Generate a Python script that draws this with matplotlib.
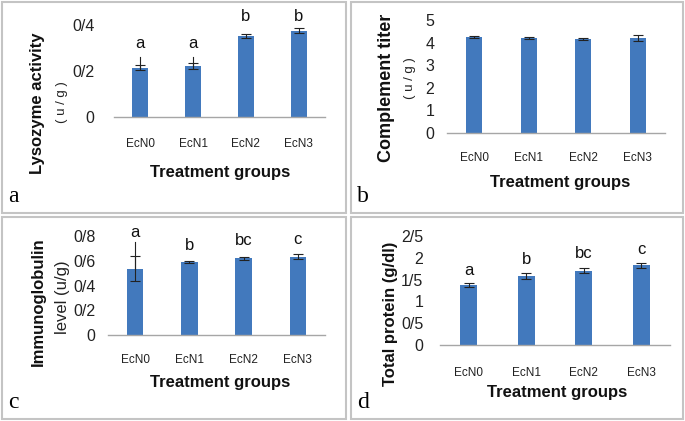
import matplotlib
matplotlib.use("Agg")
import matplotlib.pyplot as plt
from matplotlib.patches import Rectangle

W, H = 685, 421
plt.rcParams['font.family'] = ['Liberation Sans', 'DejaVu Sans']

groups = ['EcN0', 'EcN1', 'EcN2', 'EcN3']

# panel a - lysozyme
lyso = [0.215, 0.222, 0.352, 0.375]
lyso_err = [0.012, 0.012, 0.01, 0.01]
lyso_top = [0.26, 0.26, None, None]
lyso_letters = ['a', 'a', 'b', 'b']
lyso_letter_y = [0.32, 0.32, 0.435, 0.435]
lyso_ticks = [0, 0.2, 0.4]
lyso_ticklabels = ['0', '0/2', '0/4']

# panel b - complement
comp = [4.25, 4.2, 4.16, 4.2]
comp_err = [0.06, 0.06, 0.06, 0.15]
comp_ticks = [0, 1, 2, 3, 4, 5]
comp_ticklabels = ['0', '1', '2', '3', '4', '5']

# panel c - immunoglobulin
igm = [0.537, 0.59, 0.622, 0.632]
igm_err = [0.10, 0.012, 0.012, 0.02]
igm_top = [0.75, None, None, None]
igm_letters = ['a', 'b', 'bc', 'c']
igm_letter_y = [0.832, 0.727, 0.76, 0.768]
igm_ticks = [0, 0.2, 0.4, 0.6, 0.8]
igm_ticklabels = ['0', '0/2', '0/4', '0/6', '0/8']

# panel d - total protein
prot = [1.38, 1.58, 1.70, 1.83]
prot_err = [0.05, 0.07, 0.06, 0.06]
prot_letters = ['a', 'b', 'bc', 'c']
prot_letter_y = [1.72, 1.95, 2.11, 2.18]
prot_ticks = [0, 0.5, 1, 1.5, 2, 2.5]
prot_ticklabels = ['0', '0/5', '1', '1/5', '2', '2/5']

BLUE = '#4279bd'

fig = plt.figure(figsize=(W / 100, H / 100), dpi=100)


def px_axes(x0, x1, ytop, ybot):
    return fig.add_axes([x0 / W, 1 - ybot / H, (x1 - x0) / W, (ybot - ytop) / H])


def ftext(x, y, s, **kw):
    fig.text(x / W, 1 - y / H, s, ha='center', va='center', **kw)


# panel borders
for (x0, y0, x1, y1) in [(2, 2, 346, 213), (351, 2, 683, 213),
                         (2, 217, 346, 419), (351, 217, 683, 419)]:
    fig.patches.append(Rectangle((x0 / W, 1 - y1 / H), (x1 - x0) / W, (y1 - y0) / H,
                                 transform=fig.transFigure, fill=False,
                                 edgecolor='#c4c4c4', linewidth=1.5))


def panel(ax, vals, errs, ticks, ticklabels, ypad, xpad, tops=None,
          letters=None, letter_y=None):
    x = list(range(len(groups)))
    ax.bar(x, vals, width=0.3, color=BLUE, zorder=2)
    ax.errorbar(x, vals, yerr=errs, fmt='none', ecolor='#222222', elinewidth=0.8,
                capsize=3.5, capthick=0.8, zorder=3)
    if tops is not None:
        for xi, v, t in zip(x, vals, tops):
            if t is not None:
                ax.plot([xi, xi], [v, t], color='#222222', lw=0.8, zorder=3)
    if letters is not None:
        for xi, s, ly in zip(x, letters, letter_y):
            ax.text(xi, ly, s, ha='center', va='center', fontsize=12,
                    color='#111111', clip_on=False)
    ax.set_xlim(-0.5, 3.5)
    ax.set_ylim(ticks[0], ticks[-1])
    ax.set_yticks(ticks)
    ax.set_yticklabels(ticklabels)
    ax.set_xticks(x)
    ax.set_xticklabels(groups)
    for sp in ['top', 'right', 'left']:
        ax.spines[sp].set_visible(False)
    ax.spines['bottom'].set_color('#a6a6a6')
    ax.spines['bottom'].set_linewidth(1.0)
    ax.tick_params(axis='y', length=0, pad=ypad, labelsize=11.5, labelcolor='#222222')
    ax.tick_params(axis='x', length=0, pad=xpad, labelsize=8.5, labelcolor='#222222')
    ax.patch.set_alpha(0)


bold = dict(fontsize=12, fontweight='bold', color='#111111')
sub = dict(fontsize=9.5, color='#222222')
letter = dict(fontsize=17, family='Liberation Serif', color='#000000')

# a
ax = px_axes(114, 325, 25, 117)
panel(ax, lyso, lyso_err, lyso_ticks, lyso_ticklabels, 14, 15,
      tops=lyso_top, letters=lyso_letters, letter_y=lyso_letter_y)
ftext(220, 172, 'Treatment groups', **bold)
ftext(38, 103, 'Lysozyme activity', rotation=90, **bold)
ftext(62, 102, '( u / g )', rotation=90, **sub)
ftext(13, 196, 'a', **letter)

# b
ax = px_axes(447, 665, 20, 133)
panel(ax, comp, comp_err, comp_ticks, comp_ticklabels, 9, 14)
ftext(560, 182, 'Treatment groups', **bold)
ftext(387, 88, 'Complement titer', rotation=90, fontsize=13, fontweight='bold',
      color='#111111')
ftext(410, 78, '( u / g )', rotation=90, **sub)
ftext(363, 196, 'b', **letter)

# c
ax = px_axes(108, 325, 236, 335)
panel(ax, igm, igm_err, igm_ticks, igm_ticklabels, 9, 14,
      tops=igm_top, letters=igm_letters, letter_y=igm_letter_y)
ftext(220, 382, 'Treatment groups', **bold)
ftext(38, 302, 'Immunoglobulin', rotation=90, **bold)
ftext(62, 297, 'level (u/g)', rotation=90, fontsize=12, color='#222222')
ftext(13, 403, 'c', **letter)

# d
ax = px_axes(440, 670, 236, 345)
panel(ax, prot, prot_err, prot_ticks, prot_ticklabels, 12, 16,
      letters=prot_letters, letter_y=prot_letter_y)
ftext(557, 393, 'Treatment groups', **bold)
ftext(390, 314, 'Total protein (g/dl)', rotation=90, **bold)
ftext(363, 403, 'd', **letter)

fig.savefig('out.png', dpi=100)
